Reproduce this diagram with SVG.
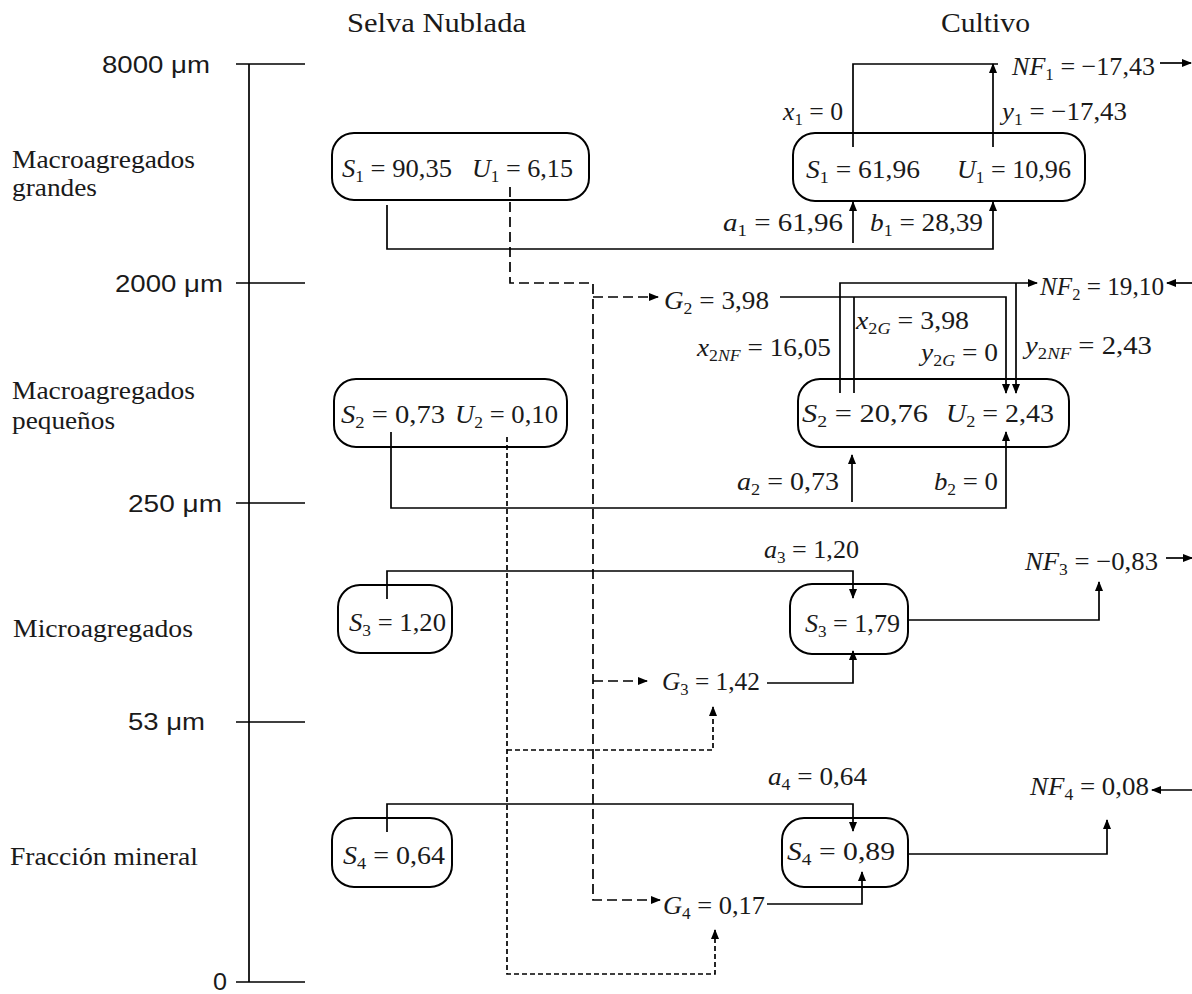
<svg xmlns="http://www.w3.org/2000/svg" width="1192" height="994" viewBox="0 0 1192 994">
<style>
  .ln{fill:none;stroke:#000;stroke-width:1.7}
  .box{fill:none;stroke:#000;stroke-width:2}
  .ld{fill:none;stroke:#000;stroke-width:1.7;stroke-dasharray:10,5}
  .sd{fill:none;stroke:#000;stroke-width:1.7;stroke-dasharray:5,3}
  .ar{marker-end:url(#ah)}
  .m{font-family:"Liberation Serif","Times New Roman",serif;font-size:26px;fill:#1a1a1a}
  .lab{font-family:"Liberation Serif","Times New Roman",serif;font-size:25px;fill:#1a1a1a}
  .ttl{font-family:"Liberation Serif","Times New Roman",serif;font-size:28px;fill:#1a1a1a}
  .sc{font-family:"Liberation Sans",Arial,sans-serif;font-size:24px;fill:#1a1a1a}
  .i{font-style:italic}
  .s{font-size:17px}
</style>
<defs>
  <marker id="ah" markerUnits="userSpaceOnUse" markerWidth="10" markerHeight="8" refX="9" refY="4" orient="auto">
    <path d="M0,0 L10,4 L0,8 z" fill="#000"/>
  </marker>
</defs>
<rect width="1192" height="994" fill="#fff"/>

<g id="titles">
  <text class="ttl" x="347" y="32" textLength="179" lengthAdjust="spacingAndGlyphs">Selva Nublada</text>
  <text class="ttl" x="941" y="32" textLength="89" lengthAdjust="spacingAndGlyphs">Cultivo</text>
</g>

<g id="scale">
  <path class="ln" d="M249,64 V982 M236,64 H305 M236,283 H305 M236,503 H305 M236,722 H305 M236,982 H305"/>
  <text class="sc" x="102" y="73" textLength="108" lengthAdjust="spacingAndGlyphs">8000 μm</text>
  <text class="sc" x="115" y="292" textLength="108" lengthAdjust="spacingAndGlyphs">2000 μm</text>
  <text class="sc" x="128" y="512" textLength="94" lengthAdjust="spacingAndGlyphs">250 μm</text>
  <text class="sc" x="128" y="730" textLength="77" lengthAdjust="spacingAndGlyphs">53 μm</text>
  <text class="sc" x="213" y="990" textLength="14" lengthAdjust="spacingAndGlyphs">0</text>
</g>

<g id="fractions">
  <text class="lab" x="12" y="168" textLength="183" lengthAdjust="spacingAndGlyphs">Macroagregados</text>
  <text class="lab" x="12" y="196" textLength="85" lengthAdjust="spacingAndGlyphs">grandes</text>
  <text class="lab" x="12" y="399" textLength="183" lengthAdjust="spacingAndGlyphs">Macroagregados</text>
  <text class="lab" x="12" y="429" textLength="103" lengthAdjust="spacingAndGlyphs">pequeños</text>
  <text class="lab" x="13" y="637" textLength="180" lengthAdjust="spacingAndGlyphs">Microagregados</text>
  <text class="lab" x="10" y="865" textLength="188" lengthAdjust="spacingAndGlyphs">Fracción mineral</text>
</g>

<g id="connectors">
  <!-- solid flows -->
  <path class="ln ar" d="M387,205 V249 H993 V202"/>
  <path class="ln ar" d="M853,243 V202"/>
  <path class="ln" d="M853,147 V64 H998"/>
  <path class="ln ar" d="M993,147 V64"/>
  <path class="ln ar" d="M1160,63 H1191"/>
  <path class="ln ar" d="M780,297 H1006 V393"/>
  <path class="ln" d="M854,393 V297"/>
  <path class="ln ar" d="M840,393 V283 H1037"/>
  <path class="ln ar" d="M1016,283 V393"/>
  <path class="ln ar" d="M1192,283 H1167"/>
  <path class="ln ar" d="M391,432 V508 H1006 V432"/>
  <path class="ln ar" d="M852,502 V455"/>
  <path class="ln ar" d="M387,599 V571 H853 V598"/>
  <path class="ln ar" d="M908,620 H1099 V582"/>
  <path class="ln ar" d="M1166,558 H1192"/>
  <path class="ln ar" d="M767,683 H853 V651"/>
  <path class="ln ar" d="M387,832 V804 H853 V831"/>
  <path class="ln ar" d="M908,854 H1107 V820"/>
  <path class="ln ar" d="M1192,790 H1152"/>
  <path class="ln ar" d="M767,904 H862 V872"/>
  <!-- long dashed (from U1) -->
  <path class="ld ar" d="M510,187 V283 H593 V900 H660"/>
  <path class="ld ar" d="M593,297 H658"/>
  <path class="ld ar" d="M593,681 H647"/>
  <!-- short dashed (from U2) -->
  <path class="sd ar" d="M507,437 V974 H715 V930"/>
  <path class="sd ar" d="M507,750 H713 V707"/>
</g>

<g id="forest-S1U1">
  <rect class="box" x="332" y="133" width="257" height="67" rx="22"/>
  <text class="m" x="342" y="177" textLength="110" lengthAdjust="spacingAndGlyphs"><tspan class="i">S</tspan><tspan class="s" dy="5">1</tspan><tspan dy="-5"> = 90,35</tspan></text>
  <text class="m" x="472" y="177" textLength="101" lengthAdjust="spacingAndGlyphs"><tspan class="i">U</tspan><tspan class="s" dy="5">1</tspan><tspan dy="-5"> = 6,15</tspan></text>
</g>

<g id="forest-S2U2">
  <rect class="box" x="334" y="379" width="233" height="68" rx="22"/>
  <text class="m" x="341" y="423" textLength="104" lengthAdjust="spacingAndGlyphs"><tspan class="i">S</tspan><tspan class="s" dy="5">2</tspan><tspan dy="-5"> = 0,73</tspan></text>
  <text class="m" x="455" y="423" textLength="103" lengthAdjust="spacingAndGlyphs"><tspan class="i">U</tspan><tspan class="s" dy="5">2</tspan><tspan dy="-5"> = 0,10</tspan></text>
</g>

<g id="forest-S3">
  <rect class="box" x="338" y="585" width="114" height="68" rx="22"/>
  <text class="m" x="349" y="631" textLength="97" lengthAdjust="spacingAndGlyphs"><tspan class="i">S</tspan><tspan class="s" dy="5">3</tspan><tspan dy="-5"> = 1,20</tspan></text>
</g>

<g id="forest-S4">
  <rect class="box" x="332" y="818" width="120" height="69" rx="22"/>
  <text class="m" x="343" y="864" textLength="102" lengthAdjust="spacingAndGlyphs"><tspan class="i">S</tspan><tspan class="s" dy="5">4</tspan><tspan dy="-5"> = 0,64</tspan></text>
</g>

<g id="crop-S1U1">
  <rect class="box" x="793" y="133" width="292" height="68" rx="22"/>
  <text class="m" x="806" y="178" textLength="114" lengthAdjust="spacingAndGlyphs"><tspan class="i">S</tspan><tspan class="s" dy="5">1</tspan><tspan dy="-5"> = 61,96</tspan></text>
  <text class="m" x="957" y="178" textLength="114" lengthAdjust="spacingAndGlyphs"><tspan class="i">U</tspan><tspan class="s" dy="5">1</tspan><tspan dy="-5"> = 10,96</tspan></text>
</g>

<g id="crop-S2U2">
  <rect class="box" x="798" y="379" width="271" height="68" rx="22"/>
  <text class="m" x="802" y="422" textLength="126" lengthAdjust="spacingAndGlyphs"><tspan class="i">S</tspan><tspan class="s" dy="5">2</tspan><tspan dy="-5"> = 20,76</tspan></text>
  <text class="m" x="946" y="422" textLength="108" lengthAdjust="spacingAndGlyphs"><tspan class="i">U</tspan><tspan class="s" dy="5">2</tspan><tspan dy="-5"> = 2,43</tspan></text>
</g>

<g id="crop-S3">
  <rect class="box" x="790" y="584" width="118" height="70" rx="22"/>
  <text class="m" x="805" y="632" textLength="95" lengthAdjust="spacingAndGlyphs"><tspan class="i">S</tspan><tspan class="s" dy="5">3</tspan><tspan dy="-5"> = 1,79</tspan></text>
</g>

<g id="crop-S4">
  <rect class="box" x="782" y="818" width="126" height="69" rx="22"/>
  <text class="m" x="787" y="860" textLength="108" lengthAdjust="spacingAndGlyphs"><tspan class="i">S</tspan><tspan class="s" dy="5">4</tspan><tspan dy="-5"> = 0,89</tspan></text>
</g>

<g id="G2">
  <text class="m" x="664" y="309" textLength="105" lengthAdjust="spacingAndGlyphs"><tspan class="i">G</tspan><tspan class="s" dy="5">2</tspan><tspan dy="-5"> = 3,98</tspan></text>
</g>
<g id="G3">
  <text class="m" x="662" y="690" textLength="98" lengthAdjust="spacingAndGlyphs"><tspan class="i">G</tspan><tspan class="s" dy="5">3</tspan><tspan dy="-5"> = 1,42</tspan></text>
</g>
<g id="G4">
  <text class="m" x="663" y="914" textLength="102" lengthAdjust="spacingAndGlyphs"><tspan class="i">G</tspan><tspan class="s" dy="5">4</tspan><tspan dy="-5"> = 0,17</tspan></text>
</g>
<g id="NF1">
  <text class="m" x="1012" y="75" textLength="143" lengthAdjust="spacingAndGlyphs"><tspan class="i">NF</tspan><tspan class="s" dy="5">1</tspan><tspan dy="-5"> = −17,43</tspan></text>
</g>
<g id="NF2">
  <text class="m" x="1040" y="295" textLength="124" lengthAdjust="spacingAndGlyphs"><tspan class="i">NF</tspan><tspan class="s" dy="5">2</tspan><tspan dy="-5"> = 19,10</tspan></text>
</g>
<g id="NF3">
  <text class="m" x="1025" y="570" textLength="133" lengthAdjust="spacingAndGlyphs"><tspan class="i">NF</tspan><tspan class="s" dy="5">3</tspan><tspan dy="-5"> = −0,83</tspan></text>
</g>
<g id="NF4">
  <text class="m" x="1030" y="795" textLength="119" lengthAdjust="spacingAndGlyphs"><tspan class="i">NF</tspan><tspan class="s" dy="5">4</tspan><tspan dy="-5"> = 0,08</tspan></text>
</g>

<g id="flow-labels">
  <text class="m" x="783" y="120" textLength="60" lengthAdjust="spacingAndGlyphs"><tspan class="i">x</tspan><tspan class="s" dy="5">1</tspan><tspan dy="-5"> = 0</tspan></text>
  <text class="m" x="1002" y="120" textLength="125" lengthAdjust="spacingAndGlyphs"><tspan class="i">y</tspan><tspan class="s" dy="5">1</tspan><tspan dy="-5"> = −17,43</tspan></text>
  <text class="m" x="723" y="231" textLength="120" lengthAdjust="spacingAndGlyphs"><tspan class="i">a</tspan><tspan class="s" dy="5">1</tspan><tspan dy="-5"> = 61,96</tspan></text>
  <text class="m" x="870" y="231" textLength="113" lengthAdjust="spacingAndGlyphs"><tspan class="i">b</tspan><tspan class="s" dy="5">1</tspan><tspan dy="-5"> = 28,39</tspan></text>
  <text class="m" x="856" y="329" textLength="113" lengthAdjust="spacingAndGlyphs"><tspan class="i">x</tspan><tspan class="s" dy="5">2<tspan class="i">G</tspan></tspan><tspan dy="-5"> = 3,98</tspan></text>
  <text class="m" x="697" y="356" textLength="134" lengthAdjust="spacingAndGlyphs"><tspan class="i">x</tspan><tspan class="s" dy="5">2<tspan class="i">NF</tspan></tspan><tspan dy="-5"> = 16,05</tspan></text>
  <text class="m" x="921" y="361" textLength="77" lengthAdjust="spacingAndGlyphs"><tspan class="i">y</tspan><tspan class="s" dy="5">2<tspan class="i">G</tspan></tspan><tspan dy="-5"> = 0</tspan></text>
  <text class="m" x="1025" y="354" textLength="127" lengthAdjust="spacingAndGlyphs"><tspan class="i">y</tspan><tspan class="s" dy="5">2<tspan class="i">NF</tspan></tspan><tspan dy="-5"> = 2,43</tspan></text>
  <text class="m" x="737" y="490" textLength="102" lengthAdjust="spacingAndGlyphs"><tspan class="i">a</tspan><tspan class="s" dy="5">2</tspan><tspan dy="-5"> = 0,73</tspan></text>
  <text class="m" x="934" y="490" textLength="64" lengthAdjust="spacingAndGlyphs"><tspan class="i">b</tspan><tspan class="s" dy="5">2</tspan><tspan dy="-5"> = 0</tspan></text>
  <text class="m" x="764" y="558" textLength="95" lengthAdjust="spacingAndGlyphs"><tspan class="i">a</tspan><tspan class="s" dy="5">3</tspan><tspan dy="-5"> = 1,20</tspan></text>
  <text class="m" x="768" y="785" textLength="99" lengthAdjust="spacingAndGlyphs"><tspan class="i">a</tspan><tspan class="s" dy="5">4</tspan><tspan dy="-5"> = 0,64</tspan></text>
</g>
</svg>
